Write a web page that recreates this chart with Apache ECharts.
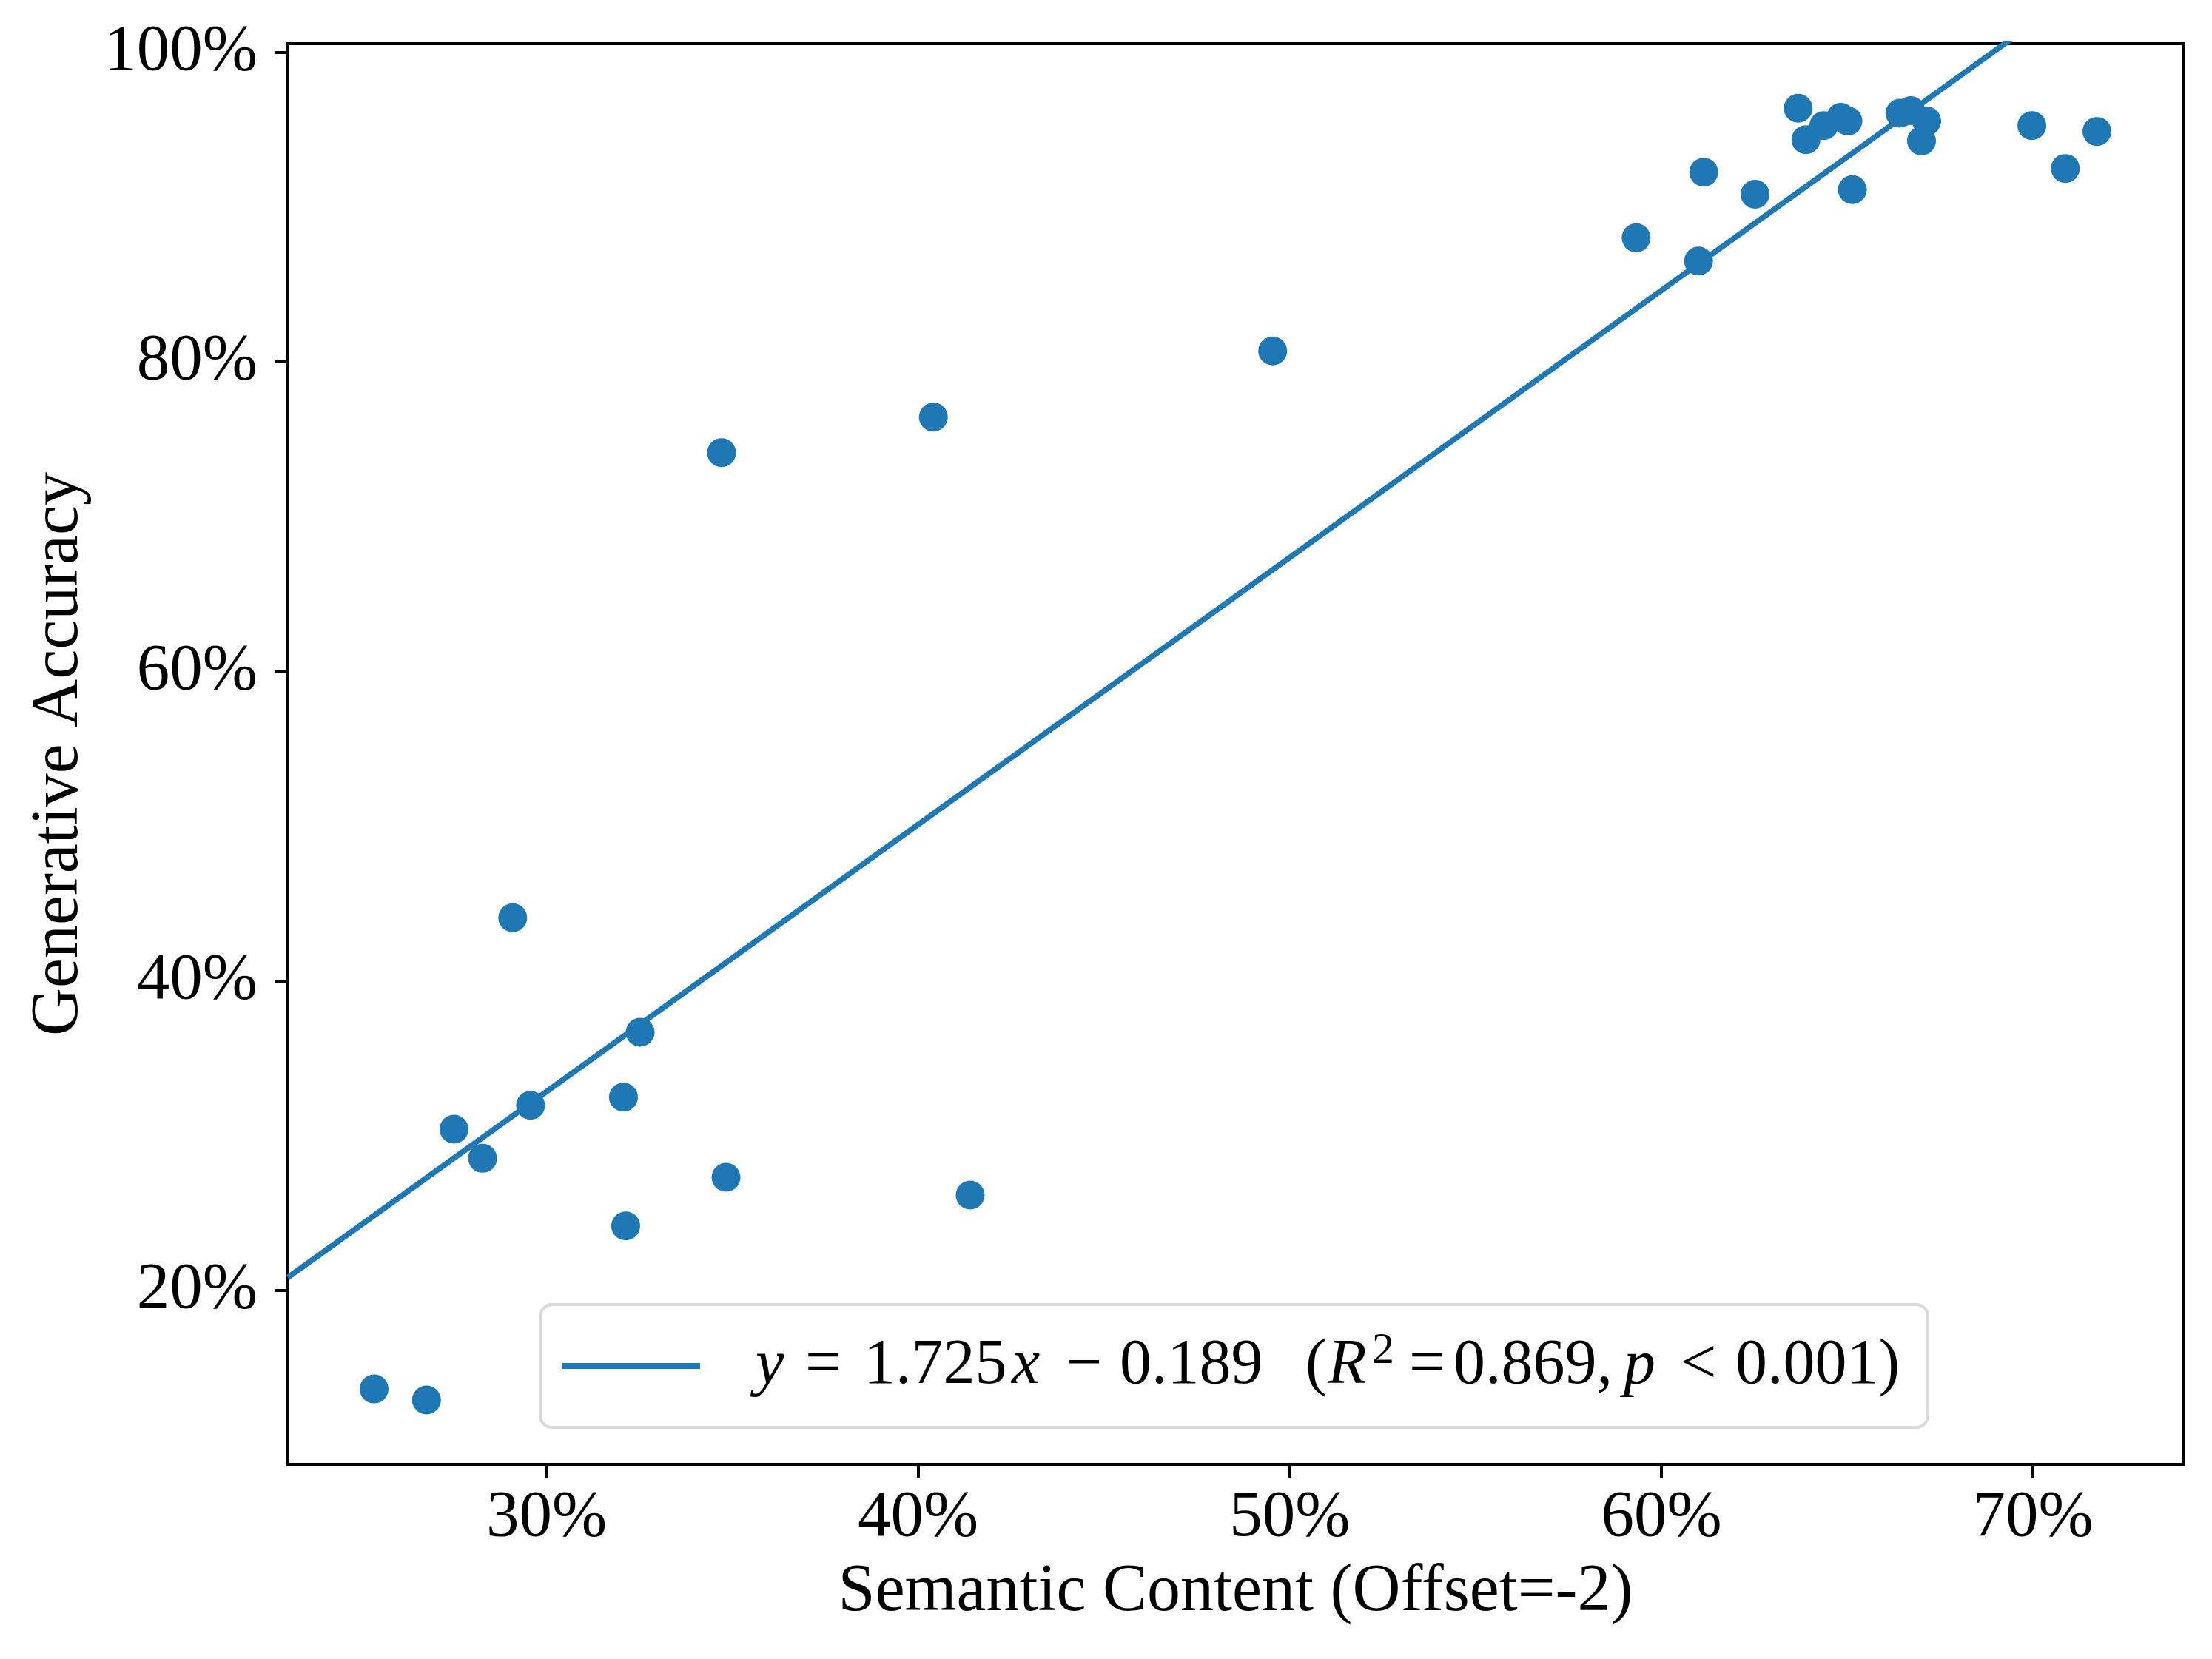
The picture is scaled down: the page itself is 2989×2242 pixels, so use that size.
<!DOCTYPE html>
<html>
<head>
<meta charset="utf-8">
<title>Generative Accuracy vs Semantic Content</title>
<script src="https://cdn.jsdelivr.net/npm/echarts/dist/echarts.min.js"></script>
<style>
	html, body { margin: 0; padding: 0; background: #fff; }
	#chart { width: 2989px; height: 2242px; }
</style>
</head>
<body>
<div id="chart"></div>
<script>
// 数据: 每个点的语义内容 (x, %) 与生成准确率 (y, %)
var semanticContent = [25.36, 26.77, 27.51, 28.28, 29.09, 29.57, 32.07, 32.13, 32.52, 34.71, 34.83,
	40.41, 41.40, 49.54, 59.32, 61.00, 61.14, 62.52, 63.68, 63.89, 64.37, 64.83, 65.02, 65.14,
	66.42, 66.71, 67.14, 67.00, 69.97, 70.87, 71.72];
var generativeAccuracy = [13.64, 12.93, 30.42, 28.54, 44.08, 31.96, 32.49, 24.17, 36.68, 74.12, 27.31,
	76.42, 26.17, 80.69, 88.00, 86.50, 92.24, 90.81, 96.37, 94.34, 95.25, 95.78, 95.54, 91.11,
	96.05, 96.21, 95.54, 94.26, 95.25, 92.48, 94.87];

// 回归线 y = 1.725x - 0.189
var fitSlope = 1.725;
var fitIntercept = -0.189;

// 坐标轴范围和刻度
var xRange = [23.04, 74.04];
var yRange = [8.77, 100.54];
var xTicks = [30, 40, 50, 60, 70];
var yTicks = [20, 40, 60, 80, 100];

var blue = '#1f77b4';
var serif = 'Liberation Serif';

var points = [];
for (var i = 0; i < semanticContent.length; i++) {
	points.push([semanticContent[i], generativeAccuracy[i]]);
}
// 回归线两端 (百分比单位)
var fitLine = [];
for (var j = 0; j < xRange.length; j++) {
	var xv = xRange[j];
	fitLine.push([xv, (fitSlope * xv / 100 + fitIntercept) * 100]);
}

// 图例公式的每一段: 占用宽度, 是否斜体
function tok(w, italic) {
	return {
		fontFamily: serif, fontSize: 86, lineHeight: 100,
		fontStyle: italic ? 'italic' : 'normal',
		width: w
	};
}
var legendRich = {
	a: tok(67, true),   // y
	b: tok(79),         // =
	c: tok(200),        // 1.725
	d: tok(74, true),   // x
	e: tok(72),         // −
	f: tok(251),        // 0.189
	g: tok(30),         // (
	h: tok(60, true),   // R
	s: { fontFamily: serif, fontSize: 60, lineHeight: 60, width: 50, verticalAlign: 'top' },
	k: tok(60),         // =
	l: tok(230),        // 0.869,
	m: tok(77, true),   // p
	n: tok(74),         // <
	o: tok(null)        // 0.001)
};

var myChart = echarts.init(document.getElementById('chart'), null, { renderer: 'canvas' });

var axisText = { fontFamily: serif, fontSize: 89, color: '#000' };

var option = {
	backgroundColor: '#ffffff',
	animation: false,
	grid: {
		left: 389,
		top: 59,
		width: 2561,
		height: 1920,
		show: true,
		borderColor: '#000',
		borderWidth: 4,
		backgroundColor: 'transparent'
	},
	xAxis: {
		type: 'value',
		min: xRange[0],
		max: xRange[1],
		name: 'Semantic Content (Offset=-2)',
		nameLocation: 'middle',
		nameGap: 128,
		nameTextStyle: { fontFamily: serif, fontSize: 90, color: '#000' },
		axisLine: { show: false },
		splitLine: { show: false },
		axisTick: {
			show: true,
			customValues: xTicks,
			length: 18,
			lineStyle: { color: '#000', width: 4 }
		},
		axisLabel: {
			customValues: xTicks,
			margin: 28,
			fontFamily: axisText.fontFamily,
			fontSize: axisText.fontSize,
			color: axisText.color,
			formatter: '{value}%'
		}
	},
	yAxis: {
		type: 'value',
		min: yRange[0],
		max: yRange[1],
		name: 'Generative Accuracy',
		nameLocation: 'middle',
		nameRotate: 90,
		nameGap: 264,
		nameTextStyle: { fontFamily: serif, fontSize: 90, color: '#000' },
		axisLine: { show: false },
		splitLine: { show: false },
		axisTick: {
			show: true,
			customValues: yTicks,
			length: 18,
			lineStyle: { color: '#000', width: 4 }
		},
		axisLabel: {
			customValues: yTicks,
			margin: 41,
			fontFamily: axisText.fontFamily,
			fontSize: axisText.fontSize,
			color: axisText.color,
			formatter: '{value}%'
		}
	},
	legend: {
		data: [{ name: 'fit', icon: 'rect' }],
		left: 730,
		top: 1763,
		itemWidth: 187,
		itemHeight: 8,
		padding: [33, 38, 33, 29],
		backgroundColor: '#fff',
		borderColor: '#d9d9d9',
		borderWidth: 4,
		borderRadius: 16,
		selectedMode: false,
		textStyle: {
			fontFamily: serif,
			fontSize: 86,
			lineHeight: 100,
			color: '#000',
			padding: [0, 0, 0, 70],
			rich: legendRich
		},
		formatter: function () {
			return '{a|y}{b|=}{c|1.725}{d|x}{e|\u2212}{f|0.189}{g|(}{h|R}{s|2}{k|=}{l|0.869,}{m|p}{n|<}{o|0.001)}';
		}
	},
	series: [{
		name: 'points',
		type: 'scatter',
		data: points,
		symbol: 'circle',
		symbolSize: 39,
		itemStyle: { color: blue, opacity: 1 },
		z: 3
	}, {
		name: 'fit',
		type: 'line',
		data: fitLine,
		showSymbol: false,
		clip: true,
		lineStyle: { color: blue, width: 7.5 },
		itemStyle: { color: blue },
		z: 4
	}]
};

myChart.setOption(option);
</script>
</body>
</html>
